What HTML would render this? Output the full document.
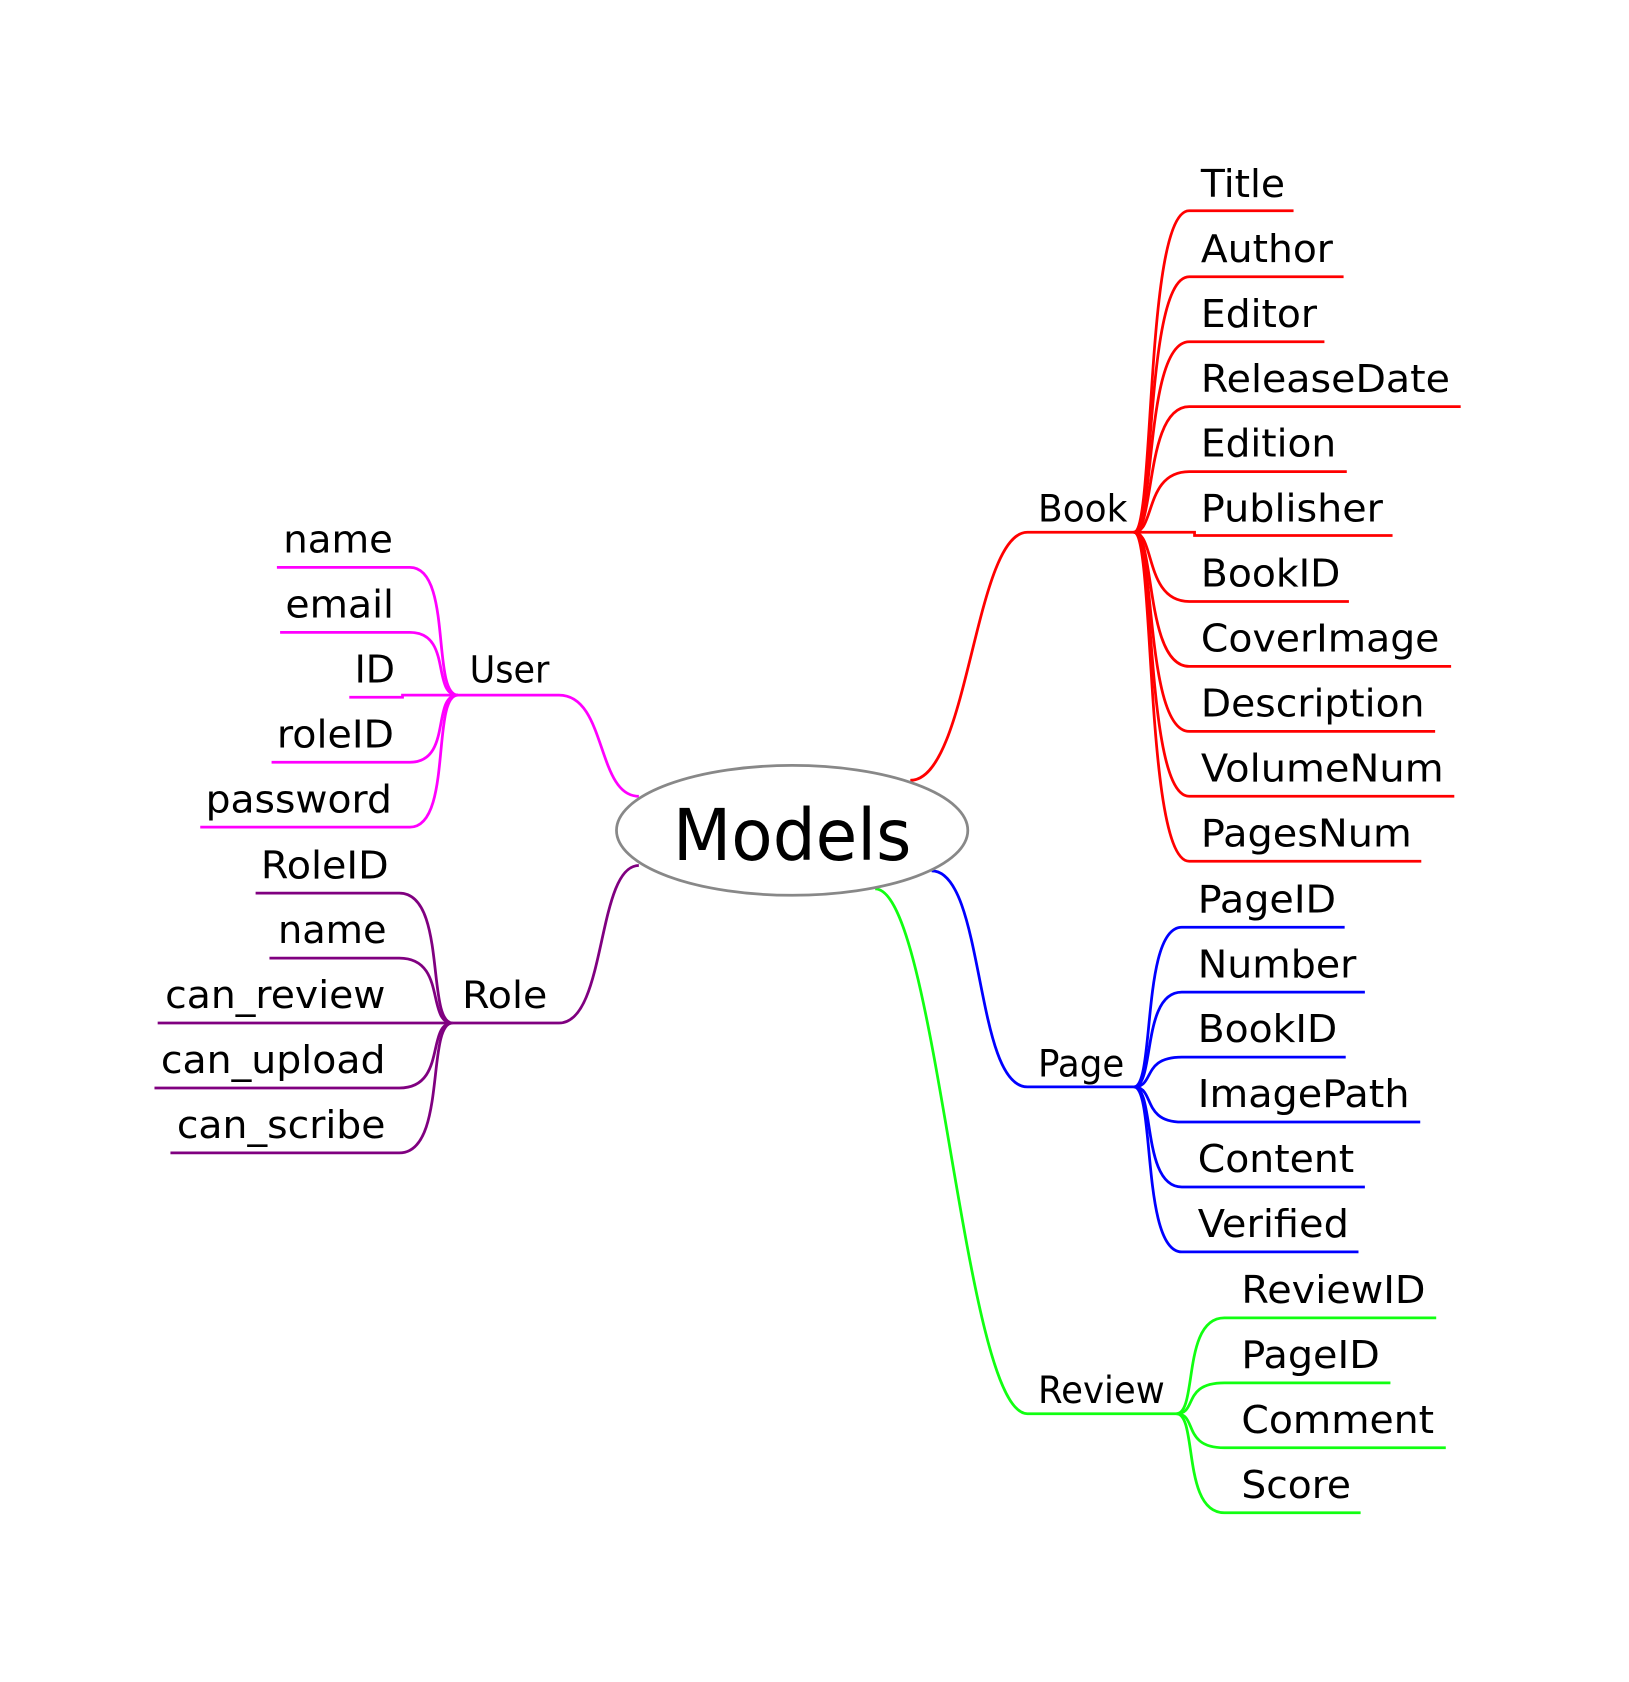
<!DOCTYPE html>
<html><head><meta charset="utf-8"><style>
html,body{margin:0;padding:0;background:#fff;width:1629px;height:1682px;overflow:hidden}
svg{display:block}
text{font-family:"DejaVu Sans","Liberation Sans",sans-serif;fill:#000}
.l{font-size:36px}
.b{font-size:35px}
path{fill:none;stroke-width:2.6}
</style></head><body>
<svg width="1629" height="1682" viewBox="0 0 1530 1580" xmlns="http://www.w3.org/2000/svg">
<g stroke="#f00">
<path d="M855,733 C910,733 915,500 965,500 L1065,500"/>
<path d="M1065,500 C1085,500 1075,198 1117,198 L1215,198"/>
<path d="M1065,500 C1085,500 1075,260 1117,260 L1262,260"/>
<path d="M1065,500 C1085,500 1075,321 1117,321 L1244,321"/>
<path d="M1065,500 C1085,500 1075,382 1117,382 L1372,382"/>
<path d="M1065,500 C1085,500 1075,443 1117,443 L1265,443"/>
<path d="M1065,500 L1122,500 L1122,503 L1308,503"/>
<path d="M1065,500 C1085,500 1075,565 1117,565 L1267,565"/>
<path d="M1065,500 C1085,500 1075,626 1117,626 L1363,626"/>
<path d="M1065,500 C1085,500 1075,687 1117,687 L1348,687"/>
<path d="M1065,500 C1085,500 1075,748 1117,748 L1366,748"/>
<path d="M1065,500 C1085,500 1075,809 1117,809 L1335,809"/>
</g>
<g stroke="#00f">
<path d="M875,818 C925,818 915,1021 965,1021 L1065,1021"/>
<path d="M1065,1021 C1085,1021 1072,871 1110,871 L1263,871"/>
<path d="M1065,1021 C1085,1021 1072,932 1110,932 L1282,932"/>
<path d="M1065,1021 C1085,1021 1072,993 1110,993 L1264,993"/>
<path d="M1065,1021 C1085,1021 1072,1054 1110,1054 L1334,1054"/>
<path d="M1065,1021 C1085,1021 1072,1115 1110,1115 L1282,1115"/>
<path d="M1065,1021 C1085,1021 1072,1176 1110,1176 L1276,1176"/>
</g>
<g stroke="#1f1">
<path d="M822,835 C880,835 905,1328 965,1328 L1105,1328"/>
<path d="M1105,1328 C1125,1328 1110,1238 1150,1238 L1349,1238"/>
<path d="M1105,1328 C1125,1328 1110,1299 1150,1299 L1306,1299"/>
<path d="M1105,1328 C1125,1328 1110,1360 1150,1360 L1358,1360"/>
<path d="M1105,1328 C1125,1328 1110,1421 1150,1421 L1278,1421"/>
</g>
<g stroke="#f0f">
<path d="M600,748 C560,748 570,653 525,653 L430,653"/>
<path d="M430,653 C405,653 425,533 385,533 L260,533"/>
<path d="M430,653 C405,653 425,594 385,594 L263,594"/>
<path d="M430,653 L378,653 L378,655 L328,655"/>
<path d="M430,653 C405,653 425,716 385,716 L255,716"/>
<path d="M430,653 C405,653 425,777 385,777 L188,777"/>
</g>
<g stroke="#800080">
<path d="M600,813 C560,813 570,961 525,961 L425,961"/>
<path d="M425,961 C400,961 420,839 375,839 L240,839"/>
<path d="M425,961 C400,961 420,900 375,900 L253,900"/>
<path d="M425,961 L148,961"/>
<path d="M425,961 C400,961 420,1022 375,1022 L145,1022"/>
<path d="M425,961 C400,961 420,1083 375,1083 L160,1083"/>
</g>
<ellipse cx="744" cy="780" rx="165" ry="61" fill="#fff" stroke="#888" stroke-width="2.6"/>
<text x="632" y="808" font-size="67" textLength="224" lengthAdjust="spacingAndGlyphs">Models</text>

<text class="b" x="975" y="490" textLength="84" lengthAdjust="spacingAndGlyphs">Book</text>
<text class="b" x="975" y="1011" textLength="81" lengthAdjust="spacingAndGlyphs">Page</text>
<text class="b" x="975" y="1318" textLength="119" lengthAdjust="spacingAndGlyphs">Review</text>
<text class="b" x="441" y="641" textLength="75" lengthAdjust="spacingAndGlyphs">User</text>
<text class="b" x="434" y="947" textLength="80" lengthAdjust="spacingAndGlyphs">Role</text>

<g class="l">
<text x="1128" y="185" textLength="79" lengthAdjust="spacingAndGlyphs">Title</text>
<text x="1128" y="246" textLength="124" lengthAdjust="spacingAndGlyphs">Author</text>
<text x="1128" y="307" textLength="109" lengthAdjust="spacingAndGlyphs">Editor</text>
<text x="1128" y="368" textLength="234" lengthAdjust="spacingAndGlyphs">ReleaseDate</text>
<text x="1128" y="429" textLength="127" lengthAdjust="spacingAndGlyphs">Edition</text>
<text x="1128" y="490" textLength="171" lengthAdjust="spacingAndGlyphs">Publisher</text>
<text x="1128" y="551" textLength="131" lengthAdjust="spacingAndGlyphs">BookID</text>
<text x="1128" y="612" textLength="224" lengthAdjust="spacingAndGlyphs">CoverImage</text>
<text x="1128" y="673" textLength="210" lengthAdjust="spacingAndGlyphs">Description</text>
<text x="1128" y="734" textLength="228" lengthAdjust="spacingAndGlyphs">VolumeNum</text>
<text x="1128" y="795" textLength="198" lengthAdjust="spacingAndGlyphs">PagesNum</text>

<text x="1125" y="857" textLength="130" lengthAdjust="spacingAndGlyphs">PageID</text>
<text x="1125" y="918" textLength="149" lengthAdjust="spacingAndGlyphs">Number</text>
<text x="1125" y="979" textLength="131" lengthAdjust="spacingAndGlyphs">BookID</text>
<text x="1125" y="1040" textLength="199" lengthAdjust="spacingAndGlyphs">ImagePath</text>
<text x="1125" y="1101" textLength="147" lengthAdjust="spacingAndGlyphs">Content</text>
<text x="1125" y="1162" textLength="142" lengthAdjust="spacingAndGlyphs">Verified</text>

<text x="1166" y="1224" textLength="173" lengthAdjust="spacingAndGlyphs">ReviewID</text>
<text x="1166" y="1285" textLength="130" lengthAdjust="spacingAndGlyphs">PageID</text>
<text x="1166" y="1346" textLength="181" lengthAdjust="spacingAndGlyphs">Comment</text>
<text x="1166" y="1407" textLength="103" lengthAdjust="spacingAndGlyphs">Score</text>

<text x="266" y="519" textLength="103" lengthAdjust="spacingAndGlyphs">name</text>
<text x="268" y="580" textLength="102" lengthAdjust="spacingAndGlyphs">email</text>
<text x="333" y="641" textLength="38" lengthAdjust="spacingAndGlyphs">ID</text>
<text x="260" y="702" textLength="110" lengthAdjust="spacingAndGlyphs">roleID</text>
<text x="193" y="763" textLength="175" lengthAdjust="spacingAndGlyphs">password</text>
<text x="245" y="825" textLength="120" lengthAdjust="spacingAndGlyphs">RoleID</text>
<text x="261" y="886" textLength="102" lengthAdjust="spacingAndGlyphs">name</text>
<text x="155" y="947" textLength="207" lengthAdjust="spacingAndGlyphs">can_review</text>
<text x="151" y="1008" textLength="211" lengthAdjust="spacingAndGlyphs">can_upload</text>
<text x="166" y="1069" textLength="196" lengthAdjust="spacingAndGlyphs">can_scribe</text>
</g>
</svg>
</body></html>
